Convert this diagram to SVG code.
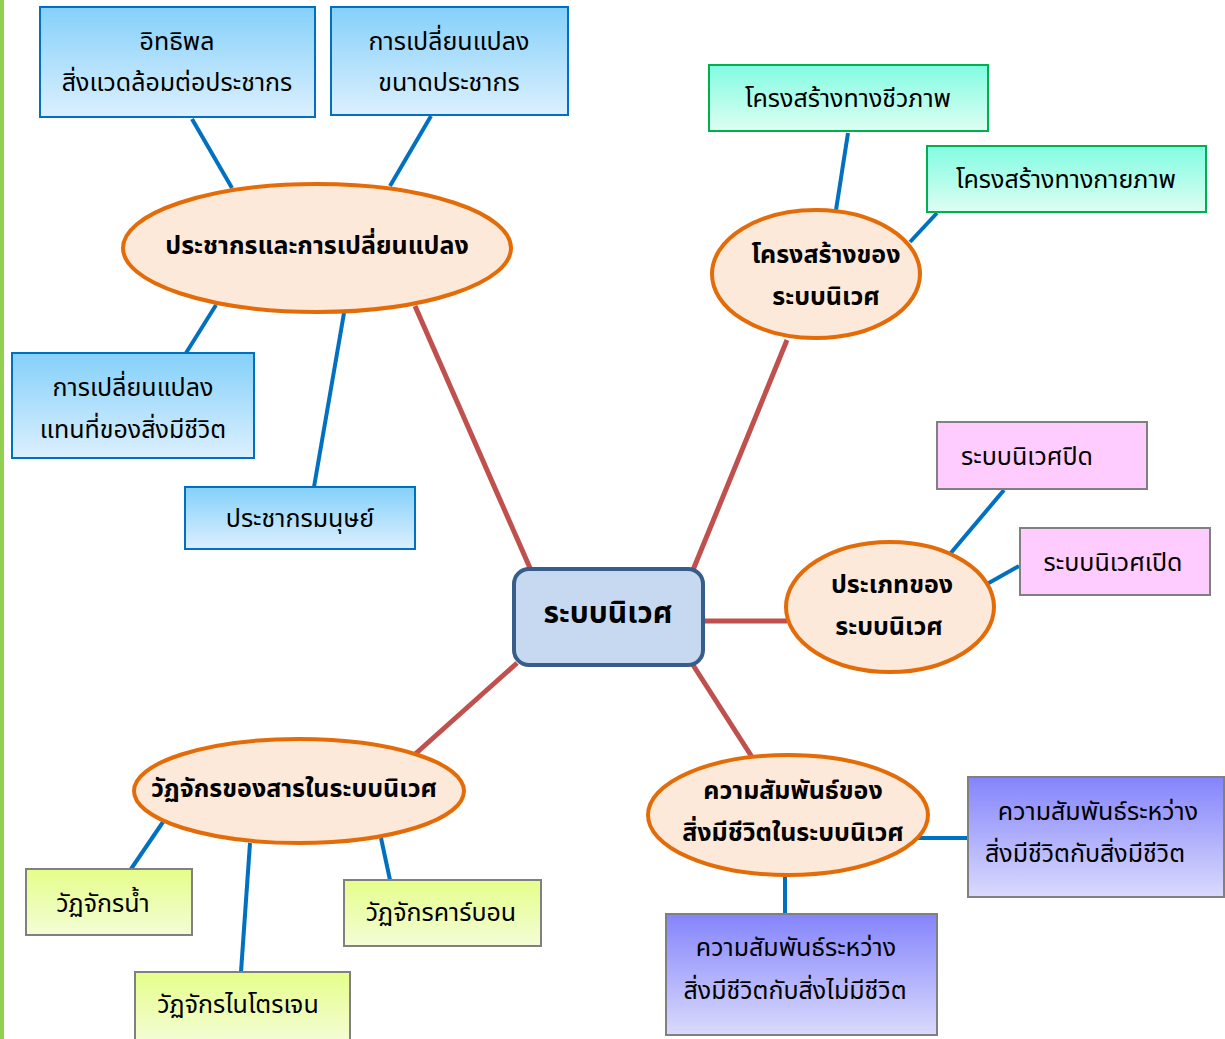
<svg xmlns="http://www.w3.org/2000/svg" width="1225" height="1039" viewBox="0 0 1225 1039">
<defs>
<linearGradient id="gBlue" x1="0" y1="0" x2="0" y2="1"><stop offset="0" stop-color="#84D0FA"/><stop offset="1" stop-color="#DCF0FE"/></linearGradient>
<linearGradient id="gGreen" x1="0" y1="0" x2="0" y2="1"><stop offset="0" stop-color="#82FCE2"/><stop offset="1" stop-color="#DDFEF2"/></linearGradient>
<linearGradient id="gPurple" x1="0" y1="0" x2="0" y2="1"><stop offset="0" stop-color="#8484FC"/><stop offset="1" stop-color="#DADAFD"/></linearGradient>
<linearGradient id="gYellow" x1="0" y1="0" x2="0" y2="1"><stop offset="0" stop-color="#E5FE8A"/><stop offset="1" stop-color="#F3FDD6"/></linearGradient>
</defs>
<style>
text{font-family:"Noto Sans Thai","Noto Sans","DejaVu Sans",sans-serif;fill:#000;text-anchor:middle;dominant-baseline:central}
.t{font-size:25px}
.b{font-size:25px;font-weight:bold}
.ell{fill:#FDE9D9;stroke:#E36C09;stroke-width:4}
.blue{fill:url(#gBlue);stroke:#0070C0;stroke-width:2}
.green{fill:url(#gGreen);stroke:#00B050;stroke-width:2}
.pink{fill:#FFCCFF;stroke:#808080;stroke-width:2}
.purple{fill:url(#gPurple);stroke:#808080;stroke-width:2}
.yellow{fill:url(#gYellow);stroke:#808080;stroke-width:2}
.cb{stroke:#0070C0;stroke-width:4;fill:none}
.cr{stroke:#C0504D;stroke-width:5;fill:none}
</style>
<rect x="0" y="0" width="1225" height="1039" fill="#fff"/>
<line x1="2" y1="0" x2="2" y2="1039" stroke="#92D050" stroke-width="4"/>
<g id="connectors">
<line class="cr" x1="415" y1="306" x2="530" y2="568"/>
<line class="cr" x1="787" y1="340" x2="693" y2="570"/>
<line class="cr" x1="703" y1="621" x2="787" y2="621"/>
<line class="cr" x1="693" y1="665" x2="752" y2="757"/>
<line class="cr" x1="517" y1="663" x2="413" y2="756"/>
<line class="cb" x1="192" y1="119" x2="232" y2="188"/>
<line class="cb" x1="431" y1="116" x2="390" y2="186"/>
<line class="cb" x1="216" y1="305" x2="186" y2="353"/>
<line class="cb" x1="344" y1="313" x2="314" y2="487"/>
<line class="cb" x1="848" y1="133" x2="836" y2="210"/>
<line class="cb" x1="937" y1="213" x2="910" y2="242"/>
<line class="cb" x1="1004" y1="490" x2="950" y2="554"/>
<line class="cb" x1="1019" y1="566" x2="987" y2="584"/>
<line class="cb" x1="918" y1="838" x2="968" y2="838"/>
<line class="cb" x1="785" y1="875" x2="785" y2="914"/>
<line class="cb" x1="163" y1="822" x2="131" y2="869"/>
<line class="cb" x1="250" y1="843" x2="241" y2="972"/>
<line class="cb" x1="381" y1="838" x2="390" y2="880"/>
</g>
<g id="center">
<rect x="514" y="569" width="189" height="96" rx="15" fill="#C6D9F1" stroke="#385D8A" stroke-width="4"/>
<text class="b" x="608" y="614" style="font-size:30px">ระบบนิเวศ</text>
</g>
<g id="population">
<ellipse class="ell" cx="317" cy="248" rx="194" ry="64"/>
<text class="b" x="317" y="246">ประชากรและการเปลี่ยนแปลง</text>
</g>
<g id="pop-influence">
<rect class="blue" x="40" y="7" width="275" height="110"/>
<text class="t" x="177" y="42">อิทธิพล</text>
<text class="t" x="177" y="83">สิ่งแวดล้อมต่อประชากร</text>
</g>
<g id="pop-size">
<rect class="blue" x="331" y="7" width="237" height="108"/>
<text class="t" x="449" y="42">การเปลี่ยนแปลง</text>
<text class="t" x="449" y="83">ขนาดประชากร</text>
</g>
<g id="pop-succession">
<rect class="blue" x="12" y="353" width="242" height="105"/>
<text class="t" x="133" y="388">การเปลี่ยนแปลง</text>
<text class="t" x="133" y="430">แทนที่ของสิ่งมีชีวิต</text>
</g>
<g id="pop-human">
<rect class="blue" x="185" y="487" width="230" height="62"/>
<text class="t" x="300" y="519">ประชากรมนุษย์</text>
</g>
<g id="structure">
<ellipse class="ell" cx="816" cy="274" rx="104" ry="64"/>
<text class="b" x="826" y="255">โครงสร้างของ</text>
<text class="b" x="826" y="297">ระบบนิเวศ</text>
</g>
<g id="bio-structure">
<rect class="green" x="709" y="65" width="279" height="66"/>
<text class="t" x="848" y="99">โครงสร้างทางชีวภาพ</text>
</g>
<g id="phys-structure">
<rect class="green" x="927" y="146" width="279" height="66"/>
<text class="t" x="1066" y="180">โครงสร้างทางกายภาพ</text>
</g>
<g id="types">
<ellipse class="ell" cx="890" cy="607" rx="104" ry="65"/>
<text class="b" x="892" y="585">ประเภทของ</text>
<text class="b" x="889" y="627">ระบบนิเวศ</text>
</g>
<g id="closed">
<rect class="pink" x="937" y="422" width="210" height="67"/>
<text class="t" x="1027" y="457">ระบบนิเวศปิด</text>
</g>
<g id="open">
<rect class="pink" x="1020" y="528" width="190" height="67"/>
<text class="t" x="1113" y="563">ระบบนิเวศเปิด</text>
</g>
<g id="relations">
<ellipse class="ell" cx="788" cy="815" rx="140" ry="60"/>
<text class="b" x="793" y="791">ความสัมพันธ์ของ</text>
<text class="b" x="793" y="833">สิ่งมีชีวิตในระบบนิเวศ</text>
</g>
<g id="bio-bio">
<rect class="purple" x="968" y="777" width="256" height="120"/>
<text class="t" x="1098" y="812">ความสัมพันธ์ระหว่าง</text>
<text class="t" x="1085" y="854">สิ่งมีชีวิตกับสิ่งมีชีวิต</text>
</g>
<g id="bio-abio">
<rect class="purple" x="666" y="914" width="271" height="121"/>
<text class="t" x="796" y="948">ความสัมพันธ์ระหว่าง</text>
<text class="t" x="795" y="991">สิ่งมีชีวิตกับสิ่งไม่มีชีวิต</text>
</g>
<g id="cycles">
<ellipse class="ell" cx="299" cy="791" rx="165" ry="52"/>
<text class="b" x="294" y="789">วัฏจักรของสารในระบบนิเวศ</text>
</g>
<g id="water">
<rect class="yellow" x="26" y="869" width="166" height="66"/>
<text class="t" x="103" y="904">วัฏจักรน้ำ</text>
</g>
<g id="carbon">
<rect class="yellow" x="344" y="880" width="197" height="66"/>
<text class="t" x="441" y="913">วัฏจักรคาร์บอน</text>
</g>
<g id="nitrogen">
<rect class="yellow" x="135" y="972" width="215" height="70"/>
<text class="t" x="238" y="1005">วัฏจักรไนโตรเจน</text>
</g>
</svg>
